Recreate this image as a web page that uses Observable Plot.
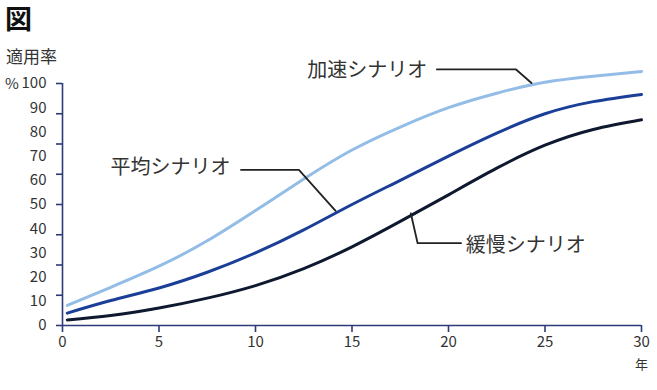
<!DOCTYPE html>
<html><head><meta charset="utf-8">
<script src="https://cdn.jsdelivr.net/npm/d3@7"></script>
<script src="https://cdn.jsdelivr.net/npm/@observablehq/plot@0.6"></script>
<style>
body{margin:0;background:#fff;}
#wrap{position:relative;width:657px;height:390px;font-family:"Noto Sans CJK JP","Noto Sans",sans-serif;}
#wrap svg{position:absolute;left:0;top:0;}
.ov{position:absolute;white-space:nowrap;line-height:1.15;color:#333;}
#title{left:5px;top:0px;font-size:27px;line-height:1.3;padding-right:4px;font-weight:700;color:#111;}
#ylab{left:6px;top:46px;font-size:17px;}
#pct{left:5px;top:74px;font-size:15px;}
</style></head>
<body>
<div id="wrap"></div>
<script>
// ---- data ----
const years       = [0.25, 2.5, 5, 7.5, 10, 12.5, 15, 17.5, 20, 22.5, 25, 27.5, 30];
const accelerated = [8.3, 15.8, 24.5, 35, 47.5, 60.5, 72.5, 82, 90, 96, 100.5, 103, 105];
const average     = [5.1, 10.3, 15.5, 22, 30, 39.5, 50, 60, 70, 79.5, 87.5, 92.5, 95.5];
const slow        = [2.3, 4.1, 7.2, 11.3, 16.5, 23.5, 32.5, 43, 54, 65, 74.5, 81, 85];
const seriesNames = ["加速シナリオ", "平均シナリオ", "緩慢シナリオ"];
const xTicks      = [0, 5, 10, 15, 20, 25, 30];
const yLabelTicks = [0, 10, 20, 30, 40, 50, 60, 70, 80, 90, 100];
const yTickMarks  = [0, 12.5, 25, 37.5, 50, 62.5, 75, 87.5, 100];
const xUnit = "年";
const titleText = "図";
const yTitle = "適用率";
const yUnit = "%";
// leader lines (year, value) and label anchors
const leaderAcc  = [[19.4, 105.8], [23.5, 105.8], [24.3, 100.2]];
const leaderAvg  = [[9.25, 64.3], [12.25, 64.3], [14.15, 47.4]];
const leaderSlow = [[18.05, 46.3], [18.4, 34], [20.65, 34]];
const labelPos   = [[18.9, 105.4, "end"], [8.7, 65.4, "end"], [20.9, 33.2, "start"]];

const colors = ["#93bde6", "#1b3f98", "#0e1930"];
const axisColor = "#2c3b78";

const rows = [];
[accelerated, average, slow].forEach((arr, i) =>
  arr.forEach((v, j) => rows.push({year: years[j], value: v, s: seriesNames[i]})));

const labels = labelPos.map((p, i) => ({x: p[0], y: p[1], anchor: p[2], text: seriesNames[i]}));

const chart = Plot.plot({
  width: 657, height: 390,
  marginLeft: 62, marginRight: 16, marginTop: 83, marginBottom: 65,
  style: {fontFamily: '"Noto Sans CJK JP","Noto Sans",sans-serif', fontSize: "15px", color: "#333", background: "transparent"},
  x: {domain: [0, 30], axis: null},
  y: {domain: [0, 100], axis: null},
  marks: [
    // axis lines
    Plot.ruleY([0], {x1: 0, x2: 30, stroke: axisColor, strokeWidth: 1.6}),
    Plot.ruleX([0], {y1: 0, y2: 100, stroke: axisColor, strokeWidth: 1.6}),
    // y tick marks (every 12.5) and labels (every 10)
    Plot.axisY(yTickMarks, {tickSize: 6, stroke: axisColor, strokeWidth: 1.6, tickFormat: () => "", label: null}),
    Plot.axisY(yLabelTicks, {tickSize: 0, tickPadding: 16, fontSize: 15, fill: "#333", label: null}),
    Plot.axisX(xTicks, {tickSize: 7, tickPadding: 4, stroke: axisColor, strokeWidth: 1.6, fontSize: 15, fill: "#333", label: null}),
    Plot.text([30], {x: d => d, y: () => 0, text: () => xUnit, dy: 39, fontSize: 13, fill: "#333"}),
    // series
    Plot.line(rows, {x: "year", y: "value", z: "s", stroke: d => colors[seriesNames.indexOf(d.s)], strokeWidth: 3, curve: "natural"}),
    // leaders
    Plot.line(leaderAcc,  {x: d => d[0], y: d => d[1], stroke: "#222", strokeWidth: 1.8}),
    Plot.line(leaderAvg,  {x: d => d[0], y: d => d[1], stroke: "#222", strokeWidth: 1.8}),
    Plot.line(leaderSlow, {x: d => d[0], y: d => d[1], stroke: "#222", strokeWidth: 1.8}),
    Plot.text(labels.filter(d => d.anchor === "end"), {x: "x", y: "y", text: "text", textAnchor: "end", fontSize: 20, fill: "#333"}),
    Plot.text(labels.filter(d => d.anchor === "start"), {x: "x", y: "y", text: "text", textAnchor: "start", fontSize: 20, fill: "#333"})
  ]
});
const wrap = document.getElementById("wrap");
wrap.appendChild(chart);
for (const [id, t] of [["title", titleText], ["ylab", yTitle], ["pct", yUnit]]) {
  const d = document.createElement("div");
  d.className = "ov"; d.id = id; d.textContent = t;
  wrap.appendChild(d);
}
</script>
</body></html>
